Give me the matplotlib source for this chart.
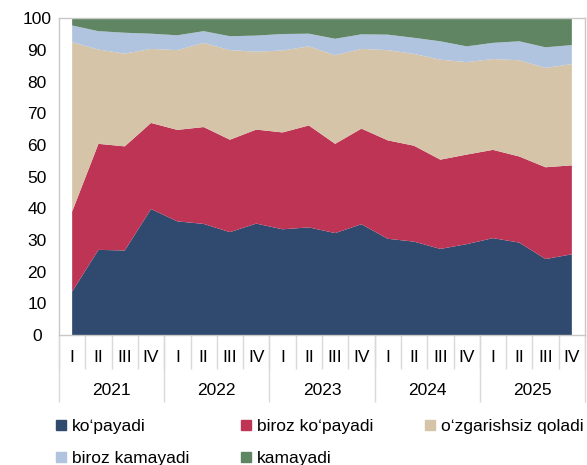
import matplotlib
matplotlib.use('Agg')
import matplotlib.pyplot as plt
from matplotlib.lines import Line2D

plt.rcParams['font.family'] = ['Liberation Sans', 'DejaVu Sans']

quarters = ['I', 'II', 'III', 'IV'] * 5
years = ['2021', '2022', '2023', '2024', '2025']

kopayadi = [13.7, 26.9, 26.7, 39.8, 35.9, 35.1, 32.5, 35.2, 33.4, 34.0,
            32.2, 35.0, 30.4, 29.5, 27.2, 28.7, 30.6, 29.2, 24.0, 25.5]
biroz_kopayadi = [25.3, 33.5, 32.9, 27.2, 28.9, 30.6, 29.2, 29.7, 30.6, 32.2,
                  28.2, 30.2, 31.1, 30.3, 28.2, 28.3, 27.9, 27.2, 29.0, 28.1]
ozgarishsiz = [53.5, 29.8, 29.3, 23.4, 25.2, 26.6, 28.3, 24.6, 25.9, 25.0,
               28.0, 25.2, 28.5, 29.0, 31.6, 29.2, 28.7, 30.4, 31.4, 32.0]
biroz_kamayadi = [5.3, 5.8, 6.6, 4.8, 4.7, 3.7, 4.4, 5.1, 5.2, 4.0,
                  5.2, 4.6, 4.9, 5.1, 5.8, 5.0, 5.1, 6.0, 6.5, 6.0]
kamayadi = [2.2, 4.0, 4.5, 4.8, 5.3, 4.0, 5.6, 5.4, 4.9, 4.8,
            6.4, 5.0, 5.1, 6.1, 7.2, 8.8, 7.7, 7.2, 9.1, 8.4]

labels = ['koʻpayadi', 'biroz koʻpayadi', 'oʻzgarishsiz qoladi', 'biroz kamayadi', 'kamayadi']
colors = ['#2F4A6E', '#BE3455', '#D5C4A8', '#B0C4DF', '#5F8563']

W, H = 587, 465
fig = plt.figure(figsize=(W / 100, H / 100), dpi=100)
ax_left, ax_right, ax_top, ax_bot = 59, 585, 18.5, 335
ax = fig.add_axes([ax_left / W, 1 - ax_bot / H, (ax_right - ax_left) / W, (ax_bot - ax_top) / H])

x = list(range(len(quarters)))
ax.stackplot(x, kopayadi, biroz_kopayadi, ozgarishsiz, biroz_kamayadi, kamayadi,
             colors=colors, linewidth=0)
ax.set_xlim(-0.5, len(quarters) - 0.5)
ax.set_ylim(0, 100)

fs = 12.5
spine_c = '#C8C8C8'
for s in ax.spines.values():
    s.set_color(spine_c)
    s.set_linewidth(1)

ax.set_yticks(range(0, 101, 10))
ax.set_yticklabels([str(v) for v in range(0, 101, 10)], fontsize=fs, ha='center')
ax.tick_params(axis='y', length=0, pad=15.8)

ax.set_xticks(x)
ax.set_xticklabels(quarters, fontsize=fs)
ax.tick_params(axis='x', which='major', length=0, pad=11)
ax.set_xticks([i - 0.5 for i in range(len(quarters) + 1)], minor=True)
ax.tick_params(axis='x', which='minor', length=24.5, width=1, color='#D9D9D9', direction='out')

axes_h = ax_bot - ax_top
ax.vlines([i * 4 - 0.5 for i in range(len(years) + 1)], 0, -(402 - ax_bot) / axes_h,
          transform=ax.get_xaxis_transform(), colors='#D9D9D9', linewidth=1, clip_on=False)
for i, yr in enumerate(years):
    ax.text(i * 4 + 1.5, -(390 - ax_bot) / axes_h, yr, transform=ax.get_xaxis_transform(),
            ha='center', va='center', fontsize=fs)

handles = [Line2D([], [], marker='s', markersize=7.2, linestyle='None', color=c) for c in colors]
order = [0, 3, 1, 4, 2]  # fill rows left-to-right
fig.legend([handles[i] for i in order], [labels[i] for i in order], ncol=3, loc='upper left',
           bbox_to_anchor=(56 / W, 1 - 419 / H),
           frameon=False, fontsize=fs, handlelength=0.6, handletextpad=0.3,
           columnspacing=3.0, labelspacing=0.95, borderpad=0, borderaxespad=0)

fig.savefig('out.png', dpi=100)
